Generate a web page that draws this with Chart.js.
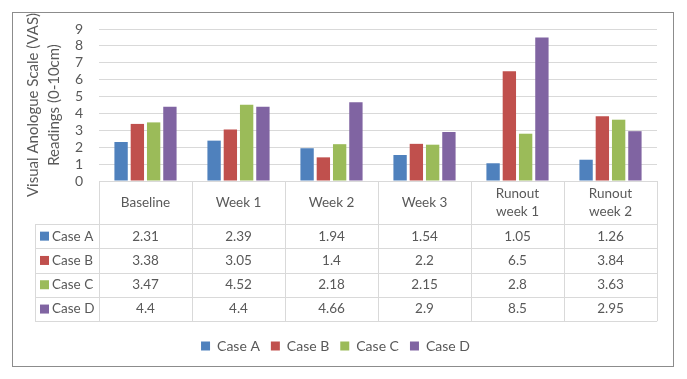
<!DOCTYPE html>
<html lang="en">
<head>
  <meta charset="UTF-8">
  <title>VAS Readings</title>
  <script src="https://cdn.jsdelivr.net/npm/chart.js"></script>
  <style>
    html, body { margin: 0; padding: 0; background: #ffffff; }
    .wrap { width: 687px; height: 379px; }
  </style>
</head>
<body>
  <div class="wrap">
    <canvas id="vasChart" width="687" height="379"></canvas>
  </div>

  <script>
    const categories = ['Baseline', 'Week 1', 'Week 2', 'Week 3', ['Runout', 'week 1'], ['Runout', 'week 2']];
    const caseA = [2.31, 2.39, 1.94, 1.54, 1.05, 1.26];
    const caseB = [3.38, 3.05, 1.4, 2.2, 6.5, 3.84];
    const caseC = [3.47, 4.52, 2.18, 2.15, 2.8, 3.63];
    const caseD = [4.4, 4.4, 4.66, 2.9, 8.5, 2.95];
    const seriesNames = ['Case A', 'Case B', 'Case C', 'Case D'];
    const yTicks = [0, 1, 2, 3, 4, 5, 6, 7, 8, 9];

    const colors = ['#4F81BD', '#C0504D', '#9BBB59', '#8064A2'];
    const textColor = '#595959';
    const lineColor = '#d9d9d9';
    const fontFamily = 'Lato, "Open Sans", sans-serif';

    // data table drawn under the plot, aligned with the x scale
    const dataTable = {
      id: 'dataTable',
      afterDraw(chart) {
        const { ctx, chartArea } = chart;
        const xs = chart.scales.x;
        const n = categories.length;
        const colW = chartArea.width / n;
        const top = chartArea.bottom;
        const headH = 43;
        const rowH = 24.3;
        const labelLeft = 35;
        const tableBottom = top + headH + rowH * seriesNames.length;

        ctx.save();
        ctx.strokeStyle = lineColor;
        ctx.lineWidth = 1;

        // horizontal lines
        ctx.beginPath();
        ctx.moveTo(chartArea.left, top + 0.5);
        ctx.lineTo(chartArea.right, top + 0.5);
        for (let r = 0; r <= seriesNames.length; r++) {
          const y = Math.round(top + headH + r * rowH) + 0.5;
          ctx.moveTo(labelLeft, y);
          ctx.lineTo(chartArea.right, y);
        }
        // vertical lines
        for (let i = 0; i <= n; i++) {
          const x = Math.round(chartArea.left + i * colW) + 0.5;
          ctx.moveTo(x, top);
          ctx.lineTo(x, tableBottom);
        }
        ctx.moveTo(labelLeft + 0.5, top + headH);
        ctx.lineTo(labelLeft + 0.5, tableBottom);
        ctx.stroke();

        ctx.fillStyle = textColor;
        ctx.font = '13.5px ' + fontFamily;
        ctx.textAlign = 'center';
        ctx.textBaseline = 'middle';

        // header
        categories.forEach((c, i) => {
          const cx = xs.getPixelForValue(i);
          const lines = Array.isArray(c) ? c : [c];
          const lh = 18;
          const y0 = top + headH / 2 - (lines.length - 1) * lh / 2;
          lines.forEach((t, k) => ctx.fillText(t, cx, y0 + k * lh));
        });

        // rows
        chart.data.datasets.forEach((ds, r) => {
          const cy = top + headH + r * rowH + rowH / 2;
          ctx.fillStyle = ds.backgroundColor;
          ctx.fillRect(labelLeft + 5, cy - 4.5, 9, 9);
          ctx.fillStyle = textColor;
          ctx.textAlign = 'left';
          ctx.fillText(ds.label, labelLeft + 17, cy);
          ctx.textAlign = 'center';
          ds.data.forEach((v, i) => {
            ctx.fillText(String(v), xs.getPixelForValue(i), cy);
          });
        });

        // outer border
        ctx.strokeStyle = '#8c8c8c';
        ctx.strokeRect(12.5, 12.5, 661, 354);
        ctx.restore();
      }
    };

    const ctx = document.getElementById('vasChart').getContext('2d');
    const datasetsData = [caseA, caseB, caseC, caseD];

    new Chart(ctx, {
      type: 'bar',
      data: {
        labels: categories,
        datasets: seriesNames.map((name, i) => ({
          label: name,
          data: datasetsData[i],
          backgroundColor: colors[i],
          borderWidth: 0,
          categoryPercentage: 0.7,
          barPercentage: 0.82
        }))
      },
      options: {
        responsive: false,
        animation: false,
        layout: { padding: { top: 29, left: 14, right: 30, bottom: 16 } },
        plugins: {
          legend: {
            position: 'bottom',
            labels: {
              boxWidth: 9,
              boxHeight: 9,
              padding: 11,
              color: textColor,
              font: { family: fontFamily, size: 14 }
            }
          },
          tooltip: { enabled: false }
        },
        scales: {
          x: {
            grid: { display: false },
            border: { display: false },
            ticks: { display: false },
            afterFit: s => { s.height = 147; }
          },
          y: {
            min: yTicks[0],
            max: yTicks[yTicks.length - 1],
            afterBuildTicks: s => { s.ticks = yTicks.map(v => ({ value: v })); },
            grid: { color: lineColor, drawTicks: false },
            border: { display: false },
            ticks: {
              autoSkip: false,
              padding: 16,
              color: textColor,
              font: { family: fontFamily, size: 14 }
            },
            title: {
              display: true,
              text: ['Visual Anologue Scale (VAS)', 'Readings (0-10cm)'],
              color: textColor,
              font: { family: fontFamily, size: 15, lineHeight: 1.45 },
              padding: { top: 8, bottom: 0 }
            },
            afterFit: s => { s.width = 85; }
          }
        }
      },
      plugins: [dataTable]
    });
  </script>
</body>
</html>
